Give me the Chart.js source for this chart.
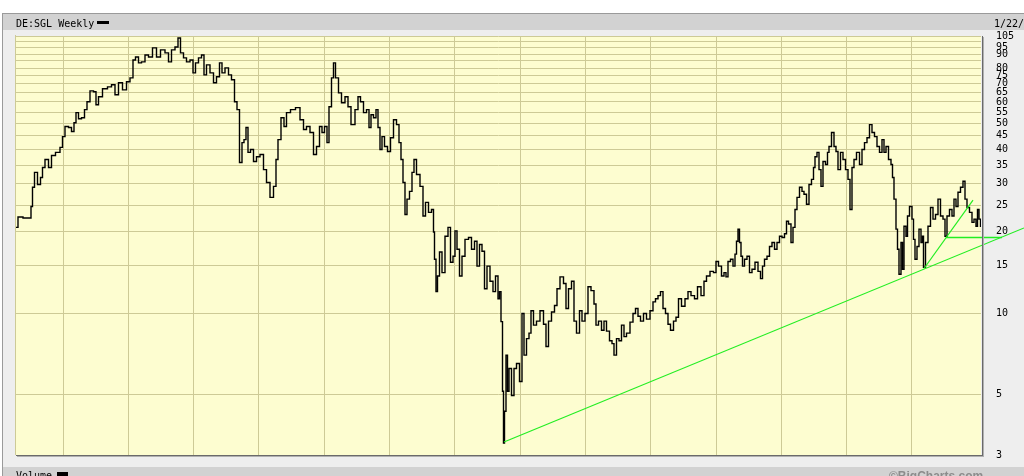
<!DOCTYPE html>
<html lang="en">
<head>
  <meta charset="UTF-8">
  <title>DE:SGL Weekly</title>
  <script src="https://cdn.jsdelivr.net/npm/chart.js"></script>
  <style>
    html,body{margin:0;padding:0;background:#fff}
    canvas{display:block}
  </style>
</head>
<body>
<canvas id="chart" width="1024" height="476"></canvas>
<script>
/* ---------- data (week index from start, weekly close) ---------- */
const weeks = [
  0,3.2,8,11.2,12.8,13.6,16,18.4,20.8,21.6,
  24.8,27.2,29.6,33.6,36.8,37.6,40.8,43.2,45.6,47.2,
  48.8,51.2,53.6,56,57.6,60.8,63.2,64.8,67.2,71.2,
  75.2,77.6,80.8,83.2,87.2,89.6,92.8,94.4,96.8,99.2,
  101.6,104.8,107.2,111.2,113.6,117.6,120.8,123.2,125.6,128.8,
  130.4,132.8,135.2,137.6,140.8,142.4,144.8,147.2,149.6,151.2,
  153.6,156.8,159.2,161.6,164,165.6,168.8,171.2,173.6,176,
  177.6,180,181.6,183.2,184.8,186.4,188.8,191.2,193.6,196.8,
  199.2,201.6,204.8,207.2,208.8,210.4,213.6,215.2,217.6,221.6,
  225.6,228.8,231.2,233.6,236.8,239.2,241.6,244,245.6,248,
  249.6,251.2,253.6,254.4,256.8,259.2,261.6,264.8,266.4,269.6,
  272.8,274.4,276.8,279.2,281.6,283.2,284.8,287.2,288.8,290.4,
  292,293.6,296,298.4,300.8,303.2,305.6,307.2,308.8,310.4,
  312,313.6,316,317.6,319.2,321.6,324.8,326.4,328.8,331.2,
  333.6,334.4,335.2,336.8,337.6,340,341.6,344.8,346.4,348.8,
  350.4,352,353.6,356,357.6,360.8,363.2,365.6,368,369.6,
  372,373.6,376,377.6,380.8,382.4,384.8,386.4,387.2,388.8,
  389.6,390.4,391.2,392.8,393.6,395.2,397.6,399.2,401.6,404,
  405.6,407.2,409.6,411.2,412.8,415.2,417.6,420.8,423.2,424.8,
  427.2,429.6,432,433.6,436.8,439.2,440.8,443.2,445.6,447.2,
  449.6,452,453.6,456.8,458.4,461.6,463.2,464.8,467.2,469.6,
  471.2,473.6,476,477.6,479.2,481.6,483.2,485.6,487.2,489.6,
  492.8,494.4,496.8,498.4,500.8,503.2,505.6,508.8,510.4,512.8,
  514.4,516.8,518.4,520.8,522.4,524.8,527.2,528.8,531.2,533.6,
  536.8,538.4,541.6,544,546.4,549.6,551.2,553.6,556.8,559.2,
  560.8,563.2,565.6,567.2,568.8,570.4,572.8,574.4,576,576.8,
  578.4,579.2,580.8,581.6,584,585.6,588,589.6,592.8,594.4,
  596.8,597.6,600,601.6,604,605.6,608,609.6,612,613.6,
  616,616.8,619.2,620.8,622.4,624,625.6,628,629.6,631.2,
  633.6,635.2,637.6,638.4,640,641.6,643.2,644.8,646.4,648.8,
  649.6,651.2,653.6,655.2,656.8,658.4,660.8,662.4,664.8,666.4,
  668,669.6,671.2,673.6,676,677.6,680,681.6,684,685.6,
  688,689.6,692,693.6,695.2,696.8,699.2,700.8,701.6,703.2,
  704.8,705.6,707.2,708.8,709.6,711.2,712.8,713.6,716,717.6,
  718.4,720,721.6,723.2,724.8,725.6,726.4,728.8,730.4,732.8,
  734.4,736.8,738.4,740.8,742.4,744,745.6,748,749.6,751.2,
  752.8,754.4,756.8,758.4,760,761.6,764,765.6,767.2,768.8,
  769.6,771.2,772
];
const closes = [
  20.7,22.6,22.4,22.4,24.7,29.1,33.0,29.8,31.6,34.4,
  36.8,34.4,38.1,39.1,40.8,44.7,48.7,48.3,46.7,50.3,
  54.8,52.0,52.5,56.2,60.1,65.9,65.4,58.6,62.7,67.1,
  68.2,69.4,63.8,70.6,66.5,71.2,73.6,85.7,87.9,83.6,
  84.3,89.4,87.9,94.9,87.9,93.3,91.0,84.3,93.3,95.7,
  103.2,91.0,87.2,84.3,85.7,76.8,83.6,87.2,89.4,75.5,
  82.2,76.8,70.6,74.3,83.6,76.8,80.1,75.5,72.4,60.1,
  56.2,35.9,42.5,43.6,48.3,39.1,40.1,36.2,37.7,38.4,
  33.8,30.3,26.7,29.3,36.8,43.6,52.5,48.7,54.8,56.2,
  57.2,51.6,47.5,48.7,46.3,38.4,41.1,48.7,46.3,48.7,
  42.5,57.6,73.6,83.6,73.6,64.8,59.6,62.7,57.6,49.5,
  56.2,62.7,60.1,54.8,56.2,48.3,53.8,52.5,56.2,48.3,
  40.1,44.7,41.1,39.4,44.3,51.6,49.5,42.5,36.8,30.3,
  23.1,26.3,28.1,33.0,36.8,32.4,29.3,22.8,25.6,23.5,
  24.1,19.9,15.8,12.0,13.7,16.8,14.1,19.2,20.7,15.4,
  16.2,20.1,17.2,13.7,16.2,18.7,19.0,17.2,18.4,14.9,
  17.9,16.9,12.3,14.9,13.1,12.0,13.7,11.3,12.0,9.3,
  5.15,3.32,4.35,7.0,5.15,6.25,4.97,6.25,6.52,5.60,
  9.97,7.0,8.05,8.44,10.2,9.03,9.34,10.2,9.1,7.53,
  9.34,10.1,10.67,12.3,13.6,12.85,10.4,12.3,13.1,9.34,
  8.44,10.2,9.34,9.97,12.5,12.1,10.8,9.03,9.34,8.65,
  9.34,8.58,7.91,7.72,7.0,8.05,7.91,9.03,8.19,8.44,
  9.26,9.97,10.4,9.74,9.34,9.97,9.5,10.2,11.0,11.3,
  11.6,12.0,10.4,9.97,9.1,8.65,9.34,9.66,11.3,10.6,
  11.3,12.0,11.6,11.3,12.5,11.6,13.1,13.7,14.25,14.1,
  15.5,14.9,13.7,14.1,13.6,15.5,15.8,14.9,16.5,18.4,
  20.4,18.2,16.2,14.9,15.8,16.2,14.1,14.5,15.4,14.25,
  13.4,14.9,15.8,16.2,17.6,18.2,17.2,18.2,19.2,19.0,
  19.6,21.8,21.3,18.2,20.7,24.1,26.7,29.1,28.1,27.4,
  25.2,29.8,31.1,34.4,37.7,39.1,33.8,29.3,36.2,35.3,
  39.1,41.1,46.3,41.1,39.4,33.8,39.1,36.8,33.8,31.1,
  24.1,34.4,36.8,39.1,35.3,40.1,42.5,44.3,49.5,46.3,
  44.7,41.1,39.1,43.6,39.1,41.1,36.8,35.3,31.6,26.3,
  20.4,17.2,13.9,18.2,14.5,20.9,19.2,22.8,24.7,22.2,
  18.7,15.8,17.6,20.4,18.2,19.2,14.75,18.2,20.9,24.5,
  22.2,23.1,26.3,22.8,22.2,19.2,22.8,24.1,22.8,26.3,
  24.7,27.9,29.1,30.6,26.3,24.5,23.5,21.6,22.2,20.9,
  24.1,22.2,20.9
];

// green trend lines (week, price)
const trendWeeks   = [390.4, 806.4];
const trendPrices  = [3.35, 20.6];
const fanWeeks     = [726.4, 765.6];
const fanPrices    = [14.6, 26.1];
const levelWeeks   = [744, 788.8];
const levelPrices  = [19.0, 19.0];

// axes
const yearTicks = [37.6,89.8,142.1,194.3,246.6,298.8,351.0,403.3,455.5,507.8,560.0,612.2,664.5,716.7];
const gridValues = [3,5,10,15,20,25,30,35,40,45,50,55,60,65,70,75,80,85,90,95,100,105];
const yLabels = [105,95,90,80,75,70,65,60,55,50,45,40,35,30,25,20,15,10,5,3];

const GRID = '#cdca96';
const MONO = '"DejaVu Sans Mono", monospace';

const pts = (xs, ys) => xs.map((x, i) => ({x, y: ys[i]}));

/* ---------- frame / texts ---------- */
const frame = {
  id: 'frame',
  beforeDraw(chart){
    const {ctx, chartArea:a, width, height} = chart;
    ctx.save();
    ctx.fillStyle = '#fff'; ctx.fillRect(0,0,width,height);
    ctx.fillStyle = '#eeeeee'; ctx.fillRect(2,13,width-2,height-13);
    ctx.fillStyle = '#d2d2d2';
    ctx.fillRect(3,14,width-3,16);
    ctx.fillRect(3,467,width-3,9);
    ctx.fillStyle = '#9a9a9a';
    ctx.fillRect(2,13,width-2,1);
    ctx.fillRect(2,13,1,height-13);
    ctx.fillStyle = '#fdfdd0';
    ctx.fillRect(a.left,a.top,a.right-a.left,a.bottom-a.top);
    ctx.restore();
  },
  afterDraw(chart){
    const {ctx, chartArea:a} = chart;
    ctx.save();
    // plot border
    ctx.fillStyle = GRID;
    ctx.fillRect(a.left-1, a.top-1, 1, a.bottom-a.top+1);
    ctx.fillStyle = '#6a6a6a';
    ctx.fillRect(a.right+1, a.top, 1, a.bottom-a.top+1);
    ctx.fillRect(a.left, a.bottom, a.right-a.left+1, 1);
    ctx.fillStyle = '#b0b0b0';
    ctx.fillRect(a.right+2, a.top+1, 1, a.bottom-a.top+1);
    ctx.fillRect(a.left+1, a.bottom+1, a.right-a.left+1, 1);
    // texts
    ctx.fillStyle = '#000';
    ctx.font = '10px ' + MONO;
    ctx.textBaseline = 'alphabetic';
    ctx.fillText('DE:SGL Weekly', 16, 26.5);
    ctx.fillRect(97,21,12,3);
    ctx.fillText('1/22/21', 994, 26.5);
    ctx.fillText('Volume', 16, 479);
    ctx.fillRect(57,472,11,4);
    ctx.fillStyle = '#8c8c8c';
    ctx.font = 'bold 12px "Liberation Sans", Arial, sans-serif';
    ctx.fillText('\u00a9BigCharts.com', 889, 480);
    ctx.restore();
  }
};

/* ---------- chart ---------- */
new Chart(document.getElementById('chart'), {
  type: 'line',
  data: {
    datasets: [
      {data: pts(trendWeeks, trendPrices), borderColor:'#22ee22', borderWidth:1.2, clip:false, order:0},
      {data: pts(fanWeeks, fanPrices), borderColor:'#22ee22', borderWidth:1.2, clip:false, order:0},
      {data: pts(levelWeeks, levelPrices), borderColor:'#22ee22', borderWidth:1.5, clip:false, order:0},
      {data: pts(weeks, closes), borderColor:'#000', borderWidth:1.4, stepped:'middle', order:1}
    ]
  },
  options: {
    responsive:false,
    animation:false,
    events:[],
    layout:{padding:{left:16, top:36, right:0, bottom:19}},
    elements:{point:{radius:0}, line:{tension:0, borderJoinStyle:'miter'}},
    plugins:{legend:{display:false}, tooltip:{enabled:false}},
    scales:{
      x:{
        type:'linear', min:0, max:772,
        afterBuildTicks: s => { s.ticks = yearTicks.map(v => ({value:v})); },
        afterFit: s => { s.height = 0; },
        ticks:{display:false},
        grid:{color:GRID, lineWidth:1, drawTicks:false},
        border:{display:false}
      },
      y:{
        type:'logarithmic', position:'right', min:3, max:105,
        afterBuildTicks: s => { s.ticks = gridValues.map(v => ({value:v})); },
        afterFit: s => { s.width = 43; },
        ticks:{
          autoSkip:false, padding:15, color:'#000',
          font:{family:MONO, size:10},
          callback: v => yLabels.includes(v) ? String(v) : ''
        },
        grid:{color:GRID, lineWidth:1, drawTicks:false},
        border:{display:false}
      }
    }
  },
  plugins:[frame]
});
</script>
</body>
</html>
